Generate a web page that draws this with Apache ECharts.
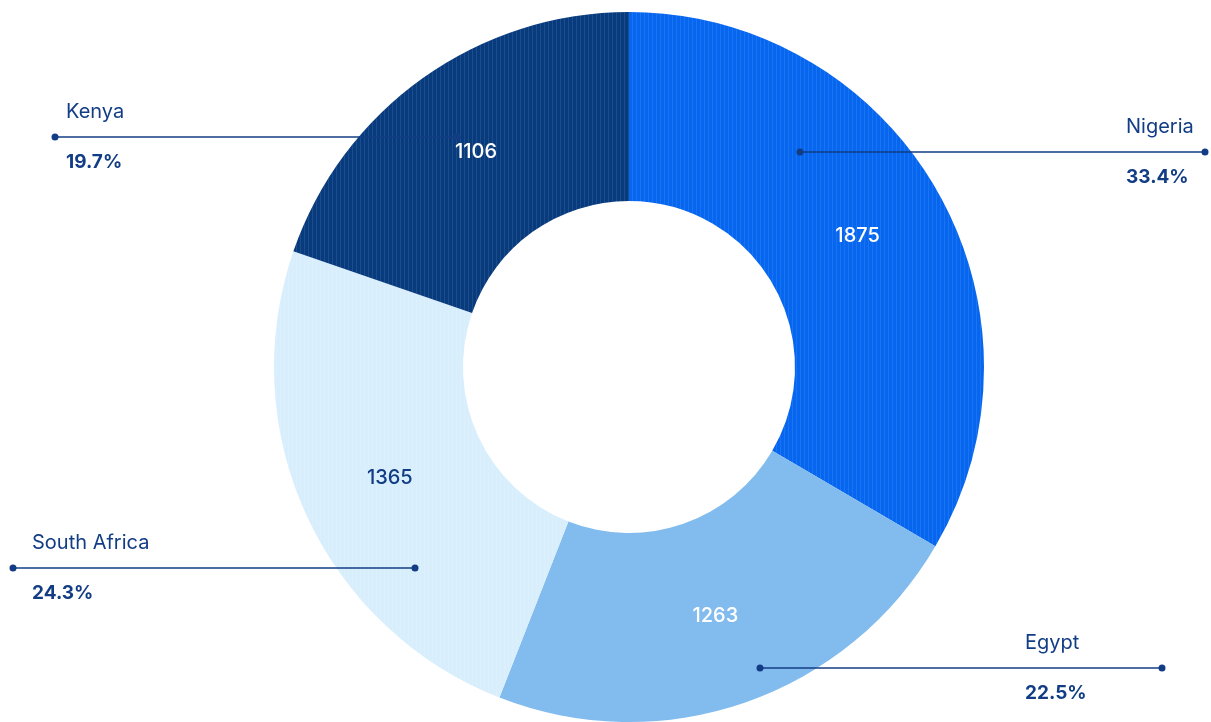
<!DOCTYPE html>
<html>
<head>
<meta charset="utf-8">
<style>
  html, body { margin: 0; padding: 0; background: #fff; }
  #chart { width: 1211px; height: 722px; }
</style>
<script src="https://cdn.jsdelivr.net/npm/echarts@6/dist/echarts.min.js"></script>
</head>
<body>
<div id="chart"></div>
<script>
// data
var countries = ['Nigeria', 'Egypt', 'South Africa', 'Kenya'];
var counts = [1875, 1263, 1365, 1106];

// look
var sliceColors = ['#0666ef', '#82bcee', '#d8eefd', '#083a7e'];
var valueColors = ['#ffffff', '#ffffff', '#123d85', '#ffffff'];
var striped = [true, false, true, true];
var navy = '#123d85';
// callout placement: horizontal leader line + text block
var callouts = [
  { y: 152, x1: 800, x2: 1205, tx: 1126 },
  { y: 668, x1: 760, x2: 1162, tx: 1025 },
  { y: 568, x1: 13, x2: 415, tx: 32 },
  { y: 137, x1: 55, x2: 457, tx: 66 }
];

var total = counts.reduce(function (a, b) { return a + b; }, 0);

var pieData = [];
for (var i = 0; i < countries.length; i++) {
  var st = { color: sliceColors[i] };
  if (striped[i]) {
    st.decal = {
      symbol: 'rect',
      symbolSize: 1,
      dashArrayX: [1, 3],
      dashArrayY: [10, 0],
      color: 'rgba(255,255,255,0.09)'
    };
  }
  pieData.push({
    name: countries[i], value: counts[i], itemStyle: st,
    label: { color: valueColors[i] }
  });
}

var graphics = [];
for (var i = 0; i < callouts.length; i++) {
  var c = callouts[i];
  graphics.push({
    type: 'line', z: 3,
    shape: { x1: c.x1, y1: c.y, x2: c.x2, y2: c.y },
    style: { stroke: navy, lineWidth: 1.6 }
  });
  graphics.push({
    type: 'circle', z: 3,
    shape: { cx: c.x1, cy: c.y, r: 3.5 },
    style: { fill: navy }
  });
  graphics.push({
    type: 'circle', z: 3,
    shape: { cx: c.x2, cy: c.y, r: 3.5 },
    style: { fill: navy }
  });
  graphics.push({
    type: 'text', z: 3,
    style: {
      x: c.tx, y: c.y - 25, text: countries[i],
      fill: navy, font: '400 20px Inter, Lato, sans-serif',
      textVerticalAlign: 'middle'
    }
  });
  graphics.push({
    type: 'text', z: 3,
    style: {
      x: c.tx, y: c.y + 25, text: (counts[i] / total * 100).toFixed(1) + '%',
      fill: navy, font: '700 19px Inter, Lato, sans-serif',
      textVerticalAlign: 'middle'
    }
  });
}

var chart = echarts.init(document.getElementById('chart'));
chart.setOption({
  animation: false,
  backgroundColor: '#ffffff',
  series: [{
    type: 'pie',
    center: [629, 367],
    radius: [166, 355],
    startAngle: 90,
    clockwise: true,
    avoidLabelOverlap: false,
    label: {
      show: true,
      position: 'inside',
      formatter: '{c}',
      color: '#ffffff',
      fontFamily: 'Inter, Lato, sans-serif',
      fontSize: 20,
      fontWeight: 500
    },
    labelLine: { show: false },
    emphasis: { disabled: true },
    data: pieData
  }],
  graphic: graphics
});
</script>
</body>
</html>
